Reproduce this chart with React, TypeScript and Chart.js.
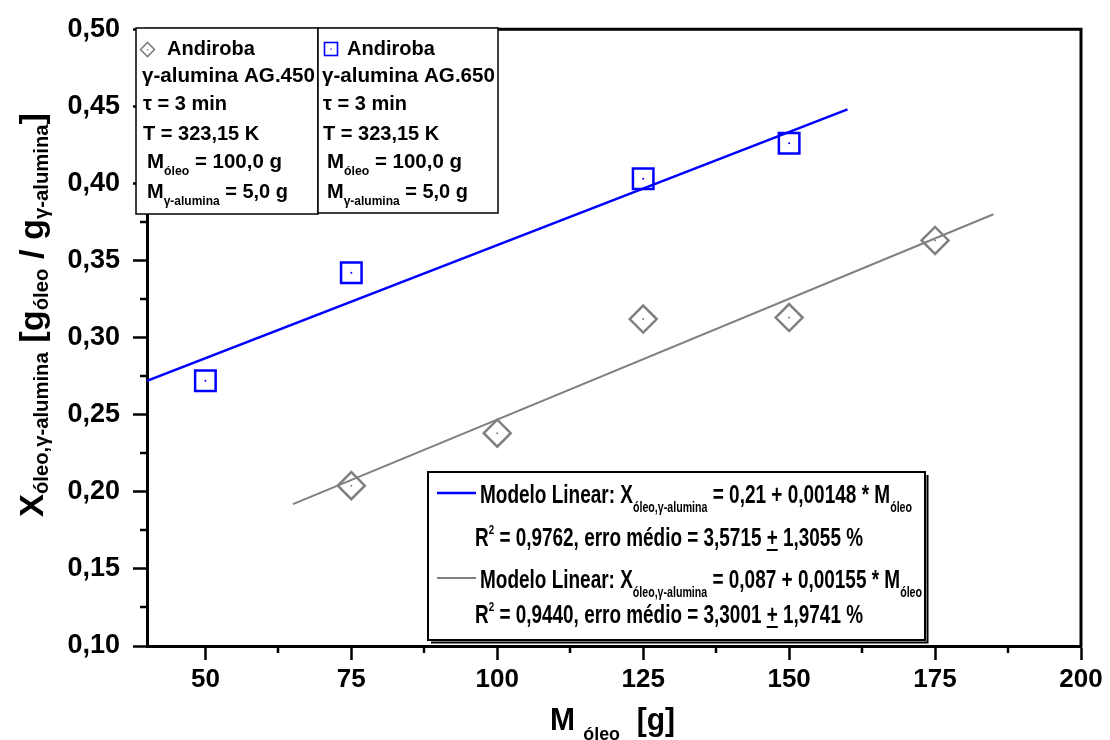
import React, { useEffect, useRef } from 'react';
import { Chart, registerables } from 'chart.js';

Chart.register(...registerables);

// ---- data ----
const xTicks = [50, 75, 100, 125, 150, 175, 200];
const xMinorTicks = [62.5, 87.5, 112.5, 137.5, 162.5, 187.5];
const yMinorTicks = [0.125, 0.175, 0.225, 0.275, 0.325, 0.375, 0.425, 0.475];

const ag650X = [50, 75, 125, 150];
const ag650Y = [0.272, 0.342, 0.403, 0.426];
const ag450X = [75, 100, 125, 150, 175];
const ag450Y = [0.204, 0.238, 0.312, 0.313, 0.363];
const fit650X = [40, 160];
const fit650Y = [0.272, 0.448];
const fit450X = [65, 185];
const fit450Y = [0.192, 0.38];

const BLUE = '#0000ff';
const GRAY = '#808080';
const FONT = '"Liberation Sans", Arial, Helvetica, sans-serif';

type Seg = { t: string; f: number; dy?: number; u?: boolean };

function richWidth(ctx: CanvasRenderingContext2D, segs: Seg[]) {
  let w = 0;
  for (const s of segs) {
    ctx.font = `bold ${s.f}px ${FONT}`;
    w += ctx.measureText(s.t).width;
  }
  return w;
}

function drawRich(
  ctx: CanvasRenderingContext2D,
  segs: Seg[],
  x: number,
  y: number,
  target?: number
) {
  ctx.save();
  const w = richWidth(ctx, segs);
  const sx = target ? target / w : 1;
  ctx.translate(x, y);
  ctx.scale(sx, 1);
  ctx.textAlign = 'left';
  ctx.textBaseline = 'alphabetic';
  ctx.fillStyle = '#000';
  let cx = 0;
  for (const s of segs) {
    ctx.font = `bold ${s.f}px ${FONT}`;
    const dy = s.dy || 0;
    ctx.fillText(s.t, cx, dy);
    const sw = ctx.measureText(s.t).width;
    if (s.u) {
      const lead = ctx.measureText(s.t.replace(/\S.*$/, '')).width;
      const core = ctx.measureText(s.t.trim()).width;
      ctx.fillRect(cx + lead, dy + 3, core, 2);
    }
    cx += sw;
  }
  ctx.restore();
}

const pts = (xs: number[], ys: number[]) => xs.map((x, i) => ({ x, y: ys[i] }));

const decor = {
  id: 'decor',
  afterDraw(chart: any) {
    const ctx: CanvasRenderingContext2D = chart.ctx;
    const { left, right, top, bottom } = chart.chartArea;
    const xs = chart.scales.x;
    const ys = chart.scales.y;
    ctx.save();
    ctx.strokeStyle = '#000';
    ctx.lineWidth = 3;
    ctx.beginPath();
    ctx.moveTo(left - 1.5, top);
    ctx.lineTo(right, top);
    ctx.lineTo(right, bottom + 1.5);
    ctx.stroke();

    // minor ticks
    ctx.lineWidth = 2.5;
    ctx.beginPath();
    xMinorTicks.forEach((v) => {
      const px = Math.round(xs.getPixelForValue(v));
      ctx.moveTo(px, bottom);
      ctx.lineTo(px, bottom + 7);
    });
    yMinorTicks.forEach((v) => {
      const py = Math.round(ys.getPixelForValue(v));
      ctx.moveTo(left, py);
      ctx.lineTo(left - 7, py);
    });
    ctx.stroke();

    // top-left info boxes
    ctx.fillStyle = '#fff';
    ctx.lineWidth = 1.5;
    ctx.fillRect(136, 28, 182, 186);
    ctx.strokeRect(136, 28, 182, 186);
    ctx.fillRect(318, 28, 180, 185);
    ctx.strokeRect(318, 28, 180, 185);

    // markers in boxes
    ctx.strokeStyle = GRAY;
    ctx.lineWidth = 1.6;
    ctx.beginPath();
    ctx.moveTo(140.5, 49.5);
    ctx.lineTo(147.5, 42.5);
    ctx.lineTo(154.5, 49.5);
    ctx.lineTo(147.5, 56.5);
    ctx.closePath();
    ctx.stroke();
    ctx.fillStyle = GRAY;
    ctx.fillRect(147, 49, 1.3, 1.3);
    ctx.strokeStyle = BLUE;
    ctx.strokeRect(324.5, 42.5, 13, 13);
    ctx.fillStyle = BLUE;
    ctx.fillRect(330.5, 48.5, 1.3, 1.3);

    const boxLines = (dx: number, name: string) => {
      drawRich(ctx, [{ t: 'Andiroba', f: 20 }], 167 + dx, 55);
      drawRich(ctx, [{ t: name, f: 20 }], 142 + dx, 82, 173);
      drawRich(ctx, [{ t: 'τ = 3 min', f: 20 }], 143 + dx, 110);
      drawRich(ctx, [{ t: 'T = 323,15 K', f: 20 }], 143 + dx, 140);
      drawRich(
        ctx,
        [
          { t: 'M', f: 20 },
          { t: 'óleo', f: 12, dy: 7 },
          { t: ' = 100,0 g', f: 20 },
        ],
        147 + dx,
        168,
        135
      );
      drawRich(
        ctx,
        [
          { t: 'M', f: 20 },
          { t: 'γ-alumina', f: 12, dy: 7 },
          { t: ' = 5,0 g', f: 20 },
        ],
        147 + dx,
        198,
        141
      );
    };
    boxLines(0, 'γ-alumina AG.450');
    boxLines(180, 'γ-alumina AG.650');

    // bottom legend box
    ctx.fillStyle = '#fff';
    ctx.fillRect(428, 472, 497, 168);
    ctx.strokeStyle = '#000';
    ctx.lineWidth = 2;
    ctx.strokeRect(428, 472, 497, 168);
    ctx.beginPath();
    ctx.moveTo(431, 642.5);
    ctx.lineTo(927.5, 642.5);
    ctx.lineTo(927.5, 475);
    ctx.stroke();

    ctx.lineWidth = 2.5;
    ctx.strokeStyle = BLUE;
    ctx.beginPath();
    ctx.moveTo(437, 493);
    ctx.lineTo(476, 493);
    ctx.stroke();
    ctx.strokeStyle = GRAY;
    ctx.lineWidth = 2;
    ctx.beginPath();
    ctx.moveTo(437, 578);
    ctx.lineTo(476, 578);
    ctx.stroke();

    drawRich(
      ctx,
      [
        { t: 'Modelo Linear: X', f: 25 },
        { t: 'óleo,γ-alumina', f: 14, dy: 9 },
        { t: ' = 0,21 + 0,00148 * M', f: 25 },
        { t: 'óleo', f: 14, dy: 9 },
      ],
      480,
      503,
      432
    );
    drawRich(
      ctx,
      [
        { t: 'R', f: 25 },
        { t: '2', f: 13, dy: -12 },
        { t: ' = 0,9762, erro médio = 3,5715 ', f: 25 },
        { t: '+', f: 25, u: true },
        { t: ' 1,3055 %', f: 25 },
      ],
      475,
      546,
      388
    );
    drawRich(
      ctx,
      [
        { t: 'Modelo Linear: X', f: 25 },
        { t: 'óleo,γ-alumina', f: 14, dy: 9 },
        { t: ' = 0,087 + 0,00155 * M', f: 25 },
        { t: 'óleo', f: 14, dy: 9 },
      ],
      480,
      588,
      442
    );
    drawRich(
      ctx,
      [
        { t: 'R', f: 25 },
        { t: '2', f: 13, dy: -12 },
        { t: ' = 0,9440, erro médio = 3,3001 ', f: 25 },
        { t: '+', f: 25, u: true },
        { t: ' 1,9741 %', f: 25 },
      ],
      475,
      623,
      388
    );

    // axis titles
    drawRich(
      ctx,
      [
        { t: 'M ', f: 32 },
        { t: 'óleo', f: 19, dy: 10 },
        { t: '  [g]', f: 32 },
      ],
      550,
      730,
      125
    );
    ctx.save();
    ctx.translate(43, 517);
    ctx.rotate(-Math.PI / 2);
    drawRich(
      ctx,
      [
        { t: 'X', f: 34 },
        { t: 'óleo,γ-alumina', f: 20, dy: 5 },
        { t: ' [g', f: 34 },
        { t: 'óleo', f: 20, dy: 5 },
        { t: ' / g', f: 34 },
        { t: 'γ-alumina', f: 20, dy: 5 },
        { t: ']', f: 34 },
      ],
      0,
      0,
      404
    );
    ctx.restore();
    ctx.restore();
  },
};

export default function App() {
  const ref = useRef<HTMLCanvasElement | null>(null);
  useEffect(() => {
    if (!ref.current) return;
    const chart = new Chart(ref.current, {
      type: 'scatter',
      data: {
        datasets: [
          {
            label: 'AG.450',
            data: pts(ag450X, ag450Y),
            pointStyle: 'rectRot',
            pointRadius: 13.5,
            pointBorderWidth: 2.5,
            pointBorderColor: GRAY,
            pointBackgroundColor: 'rgba(0,0,0,0)',
            showLine: false,
          },
          {
            label: 'AG.650',
            data: pts(ag650X, ag650Y),
            pointStyle: 'rect',
            pointRadius: 14.5,
            pointBorderWidth: 2.5,
            pointBorderColor: BLUE,
            pointBackgroundColor: 'rgba(0,0,0,0)',
            showLine: false,
          },
          {
            label: 'AG.450 centre',
            data: pts(ag450X, ag450Y),
            pointStyle: 'circle',
            pointRadius: 1,
            pointBorderWidth: 0,
            pointBackgroundColor: GRAY,
            showLine: false,
          },
          {
            label: 'AG.650 centre',
            data: pts(ag650X, ag650Y),
            pointStyle: 'circle',
            pointRadius: 1,
            pointBorderWidth: 0,
            pointBackgroundColor: BLUE,
            showLine: false,
          },
          {
            label: 'fit 650',
            data: pts(fit650X, fit650Y),
            showLine: true,
            borderColor: BLUE,
            borderWidth: 2.5,
            pointRadius: 0,
          },
          {
            label: 'fit 450',
            data: pts(fit450X, fit450Y),
            showLine: true,
            borderColor: GRAY,
            borderWidth: 2,
            pointRadius: 0,
          },
        ],
      },
      options: {
        animation: false,
        responsive: false,
        events: [],
        layout: { padding: { top: 28, right: 29, left: 0, bottom: 0 } },
        plugins: { legend: { display: false }, tooltip: { enabled: false } },
        scales: {
          x: {
            type: 'linear',
            min: 40,
            max: 200,
            afterBuildTicks: (scale: any) => {
              scale.ticks = xTicks.map((v) => ({ value: v }));
            },
            afterFit: (scale: any) => {
              scale.height = 94;
            },
            ticks: {
              autoSkip: false,
              maxRotation: 0,
              padding: 4,
              color: '#000',
              font: { family: FONT, size: 26, weight: 'bold' },
              callback: (v: any) => String(v),
            },
            grid: {
              drawOnChartArea: false,
              drawTicks: true,
              tickLength: 14,
              tickWidth: 2.5,
              tickColor: '#000',
            },
            border: { display: true, color: '#000', width: 3 },
          },
          y: {
            type: 'linear',
            min: 0.1,
            max: 0.5,
            afterFit: (scale: any) => {
              scale.width = 147;
            },
            ticks: {
              stepSize: 0.05,
              padding: 13,
              color: '#000',
              font: { family: FONT, size: 27, weight: 'bold' },
              callback: (v: any) => Number(v).toFixed(2).replace('.', ','),
            },
            grid: {
              drawOnChartArea: false,
              drawTicks: true,
              tickLength: 14,
              tickWidth: 2.5,
              tickColor: '#000',
            },
            border: { display: true, color: '#000', width: 3 },
          },
        },
      },
      plugins: [decor],
    } as any);
    return () => chart.destroy();
  }, []);
  return (
    <div style={{ position: 'fixed', left: 0, top: 0, width: 1110, height: 740, background: '#fff' }}>
      <canvas ref={ref} width={1110} height={740} style={{ width: 1110, height: 740, display: 'block' }} />
    </div>
  );
}
